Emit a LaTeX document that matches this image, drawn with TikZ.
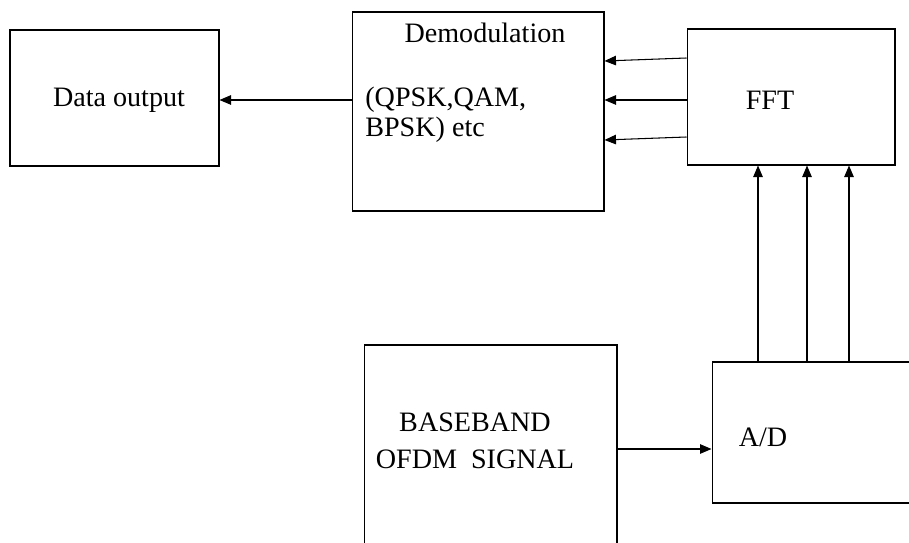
\documentclass[tikz,border=0pt]{standalone}
\usepackage{fontspec}
\setmainfont{Liberation Serif}
\usetikzlibrary{arrows.meta}

\begin{document}
\begin{tikzpicture}[
  x=0.02cm, y=-0.02cm,
  box/.style={draw, line width=0.6pt, inner sep=0pt},
  lbl/.style={font=\fontsize{16}{19}\selectfont, inner sep=0pt},
  arr/.style={-{Triangle[length=2.3mm,width=1.9mm]}, line width=0.6pt}
]
\useasboundingbox (0,0) rectangle (909,543);
\clip (0,0) rectangle (909,543);

\node[box, minimum width=4.18cm, minimum height=2.72cm] (out)   at (114.5,98)  {};
\node[box, minimum width=5.04cm, minimum height=3.98cm] (demod) at (478,111.5) {};
\node[box, minimum width=4.16cm, minimum height=2.72cm] (fft)   at (791,97)    {};
\node[box, minimum width=5.06cm, minimum height=4.6cm]  (base)  at (490.5,460) {};
\node[box, minimum width=4.36cm, minimum height=2.82cm] (ad)    at (821,432.5) {};

\node[lbl] (outtxt) at (119,100) {Data output};
\node[lbl] (demodtxt) at (485,33) {Demodulation};
\node[lbl, anchor=west, align=left, font=\fontsize{16}{17}\selectfont] (modtxt) at (365,115) {(QPSK,QAM,\\BPSK) etc};
\node[lbl] (ffttxt) at (770,100) {FFT};
\node[lbl, align=center, font=\fontsize{16}{21}\selectfont] (basetxt) at (475,441) {BASEBAND\\OFDM\ \ SIGNAL};
\node[lbl] (adtxt) at (763,437) {A/D};

\draw[arr] (demod.west |- 0,100) -- (out.east |- 0,100);

\draw[arr] (fft.west |- 0,58)  -- (demod.east |- 0,61);
\draw[arr] (fft.west |- 0,100) -- (demod.east |- 0,100);
\draw[arr] (fft.west |- 0,137) -- (demod.east |- 0,140);

\draw[arr] (ad.north -| 758,0) -- (fft.south -| 758,0);
\draw[arr] (ad.north -| 807,0) -- (fft.south -| 807,0);
\draw[arr] (ad.north -| 849,0) -- (fft.south -| 849,0);

\draw[arr] (base.east |- 0,449) -- (ad.west |- 0,449);
\end{tikzpicture}
\end{document}
